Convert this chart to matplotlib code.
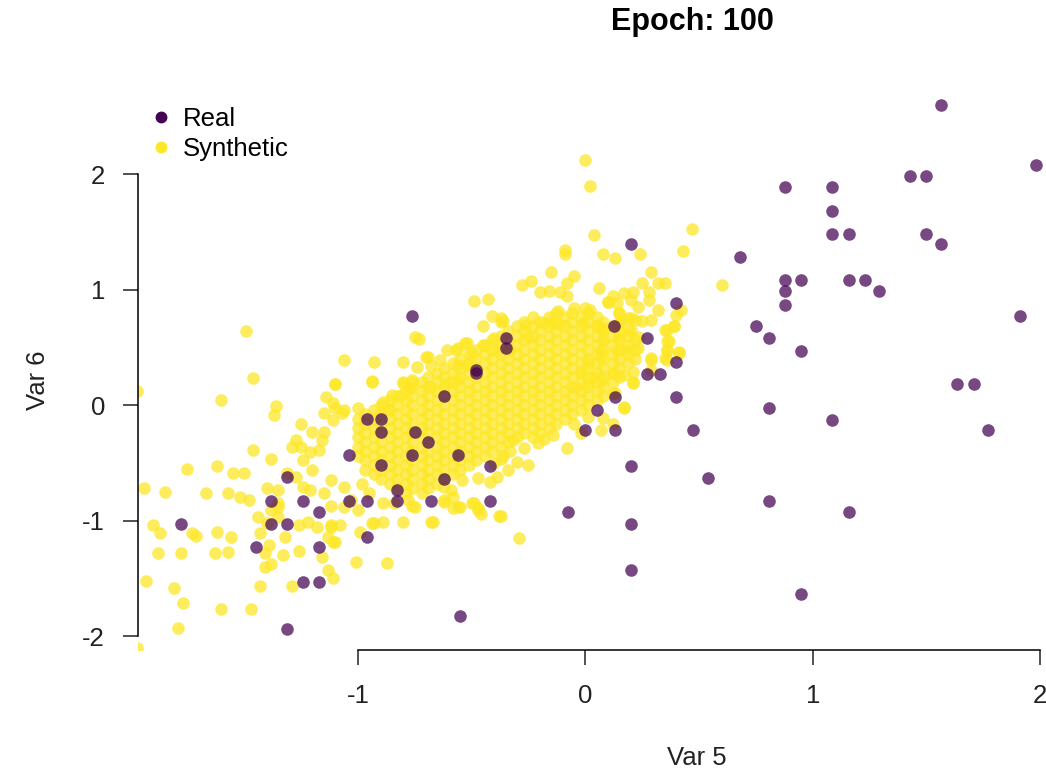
import matplotlib
matplotlib.use("Agg")
import matplotlib.pyplot as plt
from matplotlib.lines import Line2D

plt.rcParams['font.family'] = ['Liberation Sans', 'DejaVu Sans']

TITLE = "Epoch: 100"
X_LABEL = "Var 5"
Y_LABEL = "Var 6"
X_TICKS = [-1, 0, 1, 2]
Y_TICKS = [-2, -1, 0, 1, 2]

REAL_COLOR = "#440154"
SYN_COLOR = "#FDE725"

# real points (x, y)
REAL = [
    (1.565, 2.60), (1.98, 2.08), (1.43, 1.98), (1.50, 1.98), (0.88, 1.89), (1.085, 1.89),
    (1.085, 1.68), (1.085, 1.48), (1.16, 1.48), (1.50, 1.48), (1.565, 1.39), (0.68, 1.28),
    (0.88, 1.08), (0.95, 1.08), (1.16, 1.08), (1.23, 1.08), (1.29, 0.99), (0.88, 0.99),
    (0.88, 0.87), (1.91, 0.77), (0.75, 0.68), (0.81, 0.58), (0.95, 0.47),
    (1.635, 0.18), (1.71, 0.18), (0.81, -0.03), (1.085, -0.13), (1.77, -0.22), (0.81, -0.83),
    (1.16, -0.93), (0.95, -1.64),
    (0.33, 0.27), (0.27, 0.27), (0.40, 0.07), (0.13, 0.07), (0.05, -0.04), (0.475, -0.22),
    (0.13, -0.22), (0.0, -0.22), (0.20, -0.53), (0.54, -0.63), (-0.42, -0.83), (-0.075, -0.93),
    (0.20, -1.03), (0.20, -1.43), (-0.55, -1.83), (-0.42, -0.53), (-0.56, -0.43), (-0.62, 0.08),
    (-0.62, -0.64), (-0.68, -0.83), (-0.48, 0.28),
    (0.20, 1.39), (0.40, 0.88), (0.125, 0.68), (0.27, 0.58), (0.40, 0.37), (-0.35, 0.58),
    (-0.35, 0.49), (-0.48, 0.30), (-0.76, 0.77),
    (-0.96, -0.12), (-0.90, -0.12), (-0.90, -0.23), (-0.76, -0.43), (-0.90, -0.52), (-1.04, -0.43),
    (-0.83, -0.74), (-0.96, -0.83), (-1.04, -0.83), (-0.83, -0.83), (-1.38, -0.83), (-1.24, -0.83),
    (-0.96, -1.14), (-1.78, -1.03), (-1.38, -1.03), (-1.31, -1.03), (-1.45, -1.23), (-1.17, -1.23),
    (-1.17, -0.93), (-1.24, -1.53), (-1.17, -1.53), (-1.31, -1.94), (-1.31, -0.62),
    (-0.75, -0.23), (-0.69, -0.32),
]

# synthetic points away from the dense centre (x, y)
SYN_OUTER = [
    (-1.49, 0.64), (-0.75, 0.59), (-0.73, 0.57), (-1.06, 0.39), (-0.93, 0.37), (-0.80, 0.37),
    (-0.70, 0.42),
    (0.0, 2.12), (0.02, 1.90), (0.04, 1.47), (0.47, 1.52), (-0.09, 1.34), (-0.09, 1.31),
    (0.08, 1.31), (0.13, 1.27), (0.24, 1.31), (0.43, 1.33), (0.60, 1.04), (-0.15, 1.15),
    (-0.05, 1.12), (0.29, 1.15), (-0.28, 1.04), (-0.24, 1.07), (-0.08, 1.06), (0.06, 1.01),
    (0.25, 1.06), (0.32, 1.06), (0.35, 1.06), (-0.20, 0.98), (-0.16, 0.99), (-0.11, 0.98),
    (-0.08, 0.94), (-0.49, 0.90), (-0.43, 0.92), (0.10, 0.89), (0.12, 0.94), (0.17, 0.97),
    (0.21, 0.98), (0.28, 0.98), (0.28, 0.91), (-0.41, 0.77), (-0.45, 0.68), (-0.36, 0.73),
    (-0.12, 0.81), (-0.05, 0.84), (0.0, 0.84), (0.02, 0.82), (0.14, 0.88), (0.20, 0.91),
    (0.23, 0.85), (0.32, 0.82), (0.29, 0.74), (0.42, 0.82), (0.40, 0.78), (0.39, 0.68),
    (0.35, 0.65), (0.37, 0.55), (0.36, 0.48), (0.41, 0.45), (0.29, 0.39), (0.36, 0.39),
    (-0.61, 0.48), (-0.56, 0.49), (-0.53, 0.54), (-0.50, 0.45), (-0.45, 0.52), (-0.40, 0.58),
    (-0.39, 0.48), (-0.33, 0.48), (-0.26, 0.69), (-0.25, 0.59), (-0.18, 0.71), (-0.15, 0.72),
    (-0.11, 0.69), (-0.01, 0.71), (0.05, 0.68), (0.08, 0.65), (0.14, 0.69), (0.19, 0.65),
    (0.19, 0.75), (0.15, 0.80), (-0.37, 0.75), (-0.37, 0.72),
    (-0.94, 0.21), (-1.10, 0.18), (-0.69, 0.42), (-0.57, 0.48), (-0.52, 0.54),
    (-0.74, 0.33), (-0.68, 0.34), (-0.64, 0.39), (-0.56, 0.35), (-0.52, 0.35), (-0.80, 0.20),
    (-0.76, 0.22), (-0.77, 0.15), (-0.68, 0.16), (-0.61, 0.19), (-0.56, 0.22), (-0.85, 0.09),
    (-0.81, 0.09), (-0.89, 0.03), (-0.87, -0.03), (-1.00, -0.03), (-1.07, -0.07), (-1.10, -0.03),
    (-1.46, 0.23), (-1.60, 0.04), (-1.94, -0.72), (-1.85, -0.75), (-1.36, -0.01), (-1.37, -0.09),
    (-1.10, 0.18), (-1.14, 0.07), (-1.11, 0.02), (-1.06, -0.04), (-1.11, -0.13), (-1.15, -0.07),
    (-0.94, 0.20), (-0.80, 0.19), (-0.76, 0.20),
    (-1.25, -0.16), (-1.20, -0.23), (-1.15, -0.23), (-1.27, -0.30), (-1.29, -0.36), (-1.25, -0.36),
    (-1.16, -0.30), (-1.21, -0.41), (-1.17, -0.39), (-1.24, -0.48), (-1.46, -0.39), (-1.38, -0.47),
    (-1.75, -0.55), (-1.62, -0.53), (-1.55, -0.59), (-1.50, -0.59), (-1.67, -0.76), (-1.57, -0.76),
    (-1.52, -0.80), (-1.48, -0.82), (-1.90, -1.04), (-1.87, -1.11), (-1.73, -1.11), (-1.71, -1.13),
    (-1.62, -1.10), (-1.56, -1.14), (-1.88, -1.28), (-1.78, -1.28), (-1.63, -1.28), (-1.57, -1.27),
    (-1.93, -1.52), (-1.81, -1.58), (-1.77, -1.71), (-1.60, -1.77), (-1.47, -1.77), (-1.79, -1.93),
    (-1.97, 0.12), (-1.97, -2.10), (-1.43, -1.57), (-1.29, -1.57),
    (-1.39, -1.21), (-1.41, -1.28), (-1.38, -1.38), (-1.41, -1.40), (-1.33, -1.30), (-1.26, -1.26),
    (-1.32, -1.14), (-1.40, -1.02), (-1.35, -0.97), (-1.35, -0.88), (-1.43, -1.11),
    (-1.16, -1.32), (-1.13, -1.43), (-1.11, -1.50),
    (-1.26, -1.04), (-1.22, -1.01), (-1.18, -1.06), (-1.12, -1.04), (-1.08, -1.04), (-1.13, -1.14),
    (-1.11, -1.19), (-1.01, -1.36), (-0.87, -1.37), (-0.99, -1.10), (-0.93, -1.02), (-0.89, -1.01),
    (-0.80, -1.01),
    (-1.31, -0.59), (-1.27, -0.62), (-1.24, -0.71), (-1.21, -0.74), (-1.15, -0.76), (-1.12, -0.87),
    (-1.06, -0.88), (-1.00, -0.91), (-1.03, -0.82), (-1.20, -0.56), (-1.12, -0.65), (-1.06, -0.71),
    (-0.98, -0.68), (-0.95, -0.76), (-0.89, -0.85), (-0.84, -0.85), (-0.76, -0.87),
    (-1.38, -0.91), (-1.44, -0.97), (-1.35, -0.85), (-1.40, -0.72), (-1.35, -0.74),
    (-0.78, -0.82), (-0.75, -0.88), (-0.68, -1.01), (-0.62, -0.82), (-0.58, -0.80), (-0.58, -0.89),
    (-0.55, -0.88), (-0.49, -0.85), (-0.47, -0.89), (-0.37, -0.96), (-0.47, -0.91),
    (-0.94, -1.02), (-1.10, -1.19), (-1.12, -1.06), (-0.29, -1.15),
    (-0.08, -0.37), (0.17, -0.03), (0.07, -0.22), (0.12, -0.16), (0.08, -0.11), (0.21, 0.19),
    (0.13, 0.10), (0.01, -0.10), (-0.02, -0.24), (-0.05, -0.16),
    (-0.38, -0.96), (-0.46, -0.94), (-0.50, -0.85), (-0.56, -0.88), (-0.62, -0.84), (-0.67, -1.01),
    (-0.30, -0.49), (-0.25, -0.52), (-0.34, -0.56), (-0.39, -0.62), (-0.42, -0.67), (-0.47, -0.63),
    (-0.54, -0.65), (-0.59, -0.74), (-0.62, -0.71),
    (-0.18, -0.29), (-0.14, -0.26), (-0.21, -0.33), (-0.27, -0.37), (-0.32, -0.30),
    (0.10, 0.89), (0.15, 0.80), (0.16, 0.74), (0.22, 0.74), (0.25, 0.73),
    (0.08, 0.67), (0.15, 0.71), (0.20, 0.75), (0.20, 0.65), (0.15, 0.59), (0.23, 0.59),
    (0.18, 0.48), (0.23, 0.49), (0.14, 0.48), (0.08, 0.56), (0.07, 0.48),
    (0.36, 0.65), (0.39, 0.68), (0.36, 0.55), (0.36, 0.48), (0.41, 0.46), (0.35, 0.41),
    (0.29, 0.41), (0.29, 0.30), (0.21, 0.29), (0.21, 0.20), (0.17, 0.26), (0.12, 0.28),
    (0.12, 0.10), (0.17, -0.02),
    (0.07, 0.42), (0.01, 0.36), (-0.02, 0.29), (0.04, 0.24), (0.08, 0.22), (0.01, 0.19),
    (-0.04, 0.16), (-0.36, -0.44), (-0.33, -0.40), (-0.40, -0.50), (-0.37, -0.47),
]

# dense centre of the synthetic cloud, one row per y level: (y, [x values])
SYN_CORE = [
    (0.80, [0.01, -0.06, -0.13]),
    (0.76, [0.05, -0.02, -0.09, -0.16, -0.23]),
    (0.72, [0.08, 0.01, -0.06, -0.13, -0.20, -0.27]),
    (0.68, [0.12, 0.05, -0.02, -0.09, -0.16, -0.23, -0.30]),
    (0.64, [0.15, 0.08, 0.01, -0.06, -0.13, -0.20, -0.27, -0.34]),
    (0.60, [0.19, 0.12, 0.05, -0.02, -0.09, -0.16, -0.23, -0.30, -0.37]),
    (0.56, [0.22, 0.15, 0.08, 0.01, -0.06, -0.13, -0.20, -0.27, -0.34, -0.41]),
    (0.52, [0.19, 0.12, 0.05, -0.02, -0.09, -0.16, -0.23, -0.30, -0.37, -0.44]),
    (0.48, [0.22, 0.15, 0.08, 0.01, -0.06, -0.13, -0.20, -0.27, -0.34, -0.41, -0.48]),
    (0.44, [0.19, 0.12, 0.05, -0.02, -0.09, -0.16, -0.23, -0.30, -0.37, -0.44, -0.51]),
    (0.40, [0.22, 0.15, 0.08, 0.01, -0.06, -0.13, -0.20, -0.27, -0.34, -0.41, -0.48, -0.55]),
    (0.36, [0.19, 0.12, 0.05, -0.02, -0.09, -0.16, -0.23, -0.30, -0.37, -0.44, -0.51, -0.58]),
    (0.32, [0.15, 0.08, 0.01, -0.06, -0.13, -0.20, -0.27, -0.34, -0.41, -0.48, -0.55, -0.62]),
    (0.28, [0.12, 0.05, -0.02, -0.09, -0.16, -0.23, -0.30, -0.37, -0.44, -0.51, -0.58, -0.65]),
    (0.24, [0.15, 0.08, 0.01, -0.06, -0.13, -0.20, -0.27, -0.34, -0.41, -0.48, -0.55, -0.62, -0.69]),
    (0.20, [0.12, 0.05, -0.02, -0.09, -0.16, -0.23, -0.30, -0.37, -0.44, -0.51, -0.58, -0.65, -0.72]),
    (0.16, [0.08, 0.01, -0.06, -0.13, -0.20, -0.27, -0.34, -0.41, -0.48, -0.55, -0.62, -0.69, -0.76]),
    (0.12, [0.05, -0.02, -0.09, -0.16, -0.23, -0.30, -0.37, -0.44, -0.51, -0.58, -0.65, -0.72, -0.79]),
    (0.08, [0.08, 0.01, -0.06, -0.13, -0.20, -0.27, -0.34, -0.41, -0.48, -0.55, -0.62, -0.69, -0.76, -0.83]),
    (0.04, [0.05, -0.02, -0.09, -0.16, -0.23, -0.30, -0.37, -0.44, -0.51, -0.58, -0.65, -0.72, -0.79, -0.86]),
    (0.00, [0.01, -0.06, -0.13, -0.20, -0.27, -0.34, -0.41, -0.48, -0.55, -0.62, -0.69, -0.76, -0.83, -0.90]),
    (-0.04, [-0.02, -0.09, -0.16, -0.23, -0.30, -0.37, -0.44, -0.51, -0.58, -0.65, -0.72, -0.79, -0.86, -0.93]),
    (-0.08, [-0.06, -0.13, -0.20, -0.27, -0.34, -0.41, -0.48, -0.55, -0.62, -0.69, -0.76, -0.83, -0.90, -0.97]),
    (-0.12, [-0.09, -0.16, -0.23, -0.30, -0.37, -0.44, -0.51, -0.58, -0.65, -0.72, -0.79, -0.86, -0.93, -1.00]),
    (-0.16, [-0.13, -0.20, -0.27, -0.34, -0.41, -0.48, -0.55, -0.62, -0.69, -0.76, -0.83, -0.90, -0.97]),
    (-0.20, [-0.16, -0.23, -0.30, -0.37, -0.44, -0.51, -0.58, -0.65, -0.72, -0.79, -0.86, -0.93, -1.00]),
    (-0.24, [-0.20, -0.27, -0.34, -0.41, -0.48, -0.55, -0.62, -0.69, -0.76, -0.83, -0.90, -0.97]),
    (-0.28, [-0.23, -0.30, -0.37, -0.44, -0.51, -0.58, -0.65, -0.72, -0.79, -0.86, -0.93, -1.00]),
    (-0.32, [-0.34, -0.41, -0.48, -0.55, -0.62, -0.69, -0.76, -0.83, -0.90, -0.97]),
    (-0.36, [-0.37, -0.44, -0.51, -0.58, -0.65, -0.72, -0.79, -0.86, -0.93, -1.00]),
    (-0.40, [-0.41, -0.48, -0.55, -0.62, -0.69, -0.76, -0.83, -0.90, -0.97]),
    (-0.44, [-0.44, -0.51, -0.58, -0.65, -0.72, -0.79, -0.86, -0.93, -1.00]),
    (-0.48, [-0.48, -0.55, -0.62, -0.69, -0.76, -0.83, -0.90, -0.97]),
    (-0.52, [-0.51, -0.58, -0.65, -0.72, -0.79, -0.86, -0.93]),
    (-0.56, [-0.55, -0.62, -0.69, -0.76, -0.83, -0.90, -0.97]),
    (-0.60, [-0.58, -0.65, -0.72, -0.79, -0.86, -0.93]),
    (-0.64, [-0.62, -0.69, -0.76, -0.83, -0.90]),
    (-0.68, [-0.65, -0.72, -0.79, -0.86]),
    (-0.72, [-0.69, -0.76, -0.83]),
    (-0.76, [-0.72, -0.79]),
]


def split(points):
    return [p[0] for p in points], [p[1] for p in points]


real_x, real_y = split(REAL)
syn_x, syn_y = split(SYN_OUTER)
for row_y, row_xs in SYN_CORE:
    syn_x += row_xs
    syn_y += [row_y] * len(row_xs)

W, H = 1046, 772
fig = plt.figure(figsize=(W / 100, H / 100), dpi=100)
# plot region in pixels: left 138, right 1046, top 80, bottom 650
ax = fig.add_axes([138 / W, 1 - 650 / H, (1046 - 138) / W, (650 - 80) / H])

ax.scatter(syn_x, syn_y, s=82, color=SYN_COLOR, alpha=0.75, linewidths=0, zorder=2)
ax.scatter(real_x, real_y, s=82, color=REAL_COLOR, alpha=0.72, linewidths=0, zorder=3)

ax.set_xlim(-1.967, 2.026)
ax.set_ylim(-2.121, 2.814)

for side in ("top", "right"):
    ax.spines[side].set_visible(False)
ax.spines["left"].set_bounds(-2, 2)
ax.spines["bottom"].set_bounds(-1, 2)
ax.spines["left"].set_linewidth(1.1)
ax.spines["bottom"].set_linewidth(1.1)

ax.set_xticks(X_TICKS)
ax.set_xticklabels([str(t) for t in X_TICKS])
ax.set_yticks(Y_TICKS)
ax.set_yticklabels([str(t) for t in Y_TICKS])
ax.tick_params(axis="both", direction="out", length=10.8, width=1.1, labelsize=18.5, colors="#222222")
ax.tick_params(axis="x", pad=14)
ax.tick_params(axis="y", pad=13)

fig.text(697 / W, 1 - 758 / H, X_LABEL, ha="center", va="center", fontsize=18.5, color="#222222")
fig.text(38 / W, 1 - 380 / H, Y_LABEL, ha="center", va="center", rotation=90, fontsize=18.5, color="#222222")
fig.text(692 / W, 1 - 22 / H, TITLE, ha="center", va="center", fontsize=22, fontweight="bold")

handles = [
    Line2D([], [], marker="o", linestyle="none", color=REAL_COLOR, markersize=7.5),
    Line2D([], [], marker="o", linestyle="none", color=SYN_COLOR, markersize=7.5),
]
fig.legend(handles, ["Real", "Synthetic"], loc="upper left",
           bbox_to_anchor=(148 / W, 1 - 107 / H), frameon=False, fontsize=18.5,
           handlelength=1.0, handletextpad=0.35, labelspacing=0.25, borderpad=0, borderaxespad=0)

fig.savefig("out.png", dpi=100)
